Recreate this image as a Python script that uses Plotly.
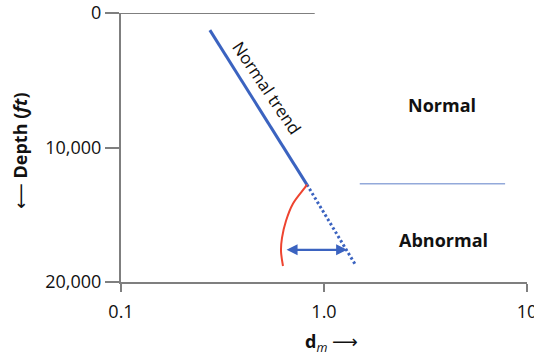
import numpy as np
import plotly.graph_objects as go

# d-exponent (dm) versus depth: normal compaction trend and abnormal pressure zone
trend_dm = [0.274, 0.824]
trend_depth = [1270, 12760]

trend_ext_dm = [0.824, 1.42]
trend_ext_depth = [12760, 18660]

abnormal_dm = [0.824, 0.805, 0.703, 0.650, 0.621, 0.614, 0.628]
abnormal_depth = [12760, 12985, 14180, 15450, 16720, 17690, 18810]

shift_depth = 17610
shift_dm = [0.643, 1.30]

boundary_depth = 12690
boundary_dm = [1.50, 7.8]

top_dm = [0.1, 0.9]
top_depth = [0, 0]

x_ticks = [0.1, 1, 10]
x_labels = ["0.1", "1.0", "10"]
y_ticks = [0, 10000, 20000]
y_labels = ["0", "10,000", "20,000"]

BLUE = "#3b63c0"
RED = "#ee4430"
GRAY = "#7f7f7f"
FONT = "Open Sans"
ARROW = '<span style="font-family:DejaVu Sans;font-weight:normal">{}</span>'

W, H = 534, 356
L, R, T, B = 121, 7, 13, 74
pw, ph = W - L - R, H - T - B


def px_to_paper(px, py):
    return (px - L) / pw, (H - B - py) / ph


def label(px, py, text, size=18, angle=0):
    x, y = px_to_paper(px, py)
    fig.add_annotation(x=x, y=y, xref="paper", yref="paper", text=text,
                       showarrow=False, textangle=angle,
                       xanchor="center", yanchor="middle",
                       font=dict(family=FONT, size=size, color="#111"))


fig = go.Figure()

fig.add_trace(go.Scatter(x=top_dm, y=top_depth, mode="lines",
                         line=dict(color=GRAY, width=2), hoverinfo="skip"))
fig.add_trace(go.Scatter(x=trend_dm, y=trend_depth, mode="lines",
                         line=dict(color=BLUE, width=3)))
fig.add_trace(go.Scatter(x=trend_ext_dm, y=trend_ext_depth, mode="lines",
                         line=dict(color=BLUE, width=3, dash="2.5px,2.5px")))
fig.add_trace(go.Scatter(x=abnormal_dm, y=abnormal_depth, mode="lines",
                         line=dict(color=RED, width=2, shape="spline")))
fig.add_trace(go.Scatter(x=boundary_dm, y=[boundary_depth] * 2, mode="lines",
                         line=dict(color="#93a9da", width=1.5)))

# double-headed arrow showing the shift from the normal trend
fig.add_annotation(x=np.log10(shift_dm[1]), y=shift_depth,
                   ax=np.log10(shift_dm[0]), ay=shift_depth,
                   xref="x", yref="y", axref="x", ayref="y",
                   text="", showarrow=True, arrowhead=2, arrowside="end+start",
                   arrowsize=1, arrowwidth=2.2, arrowcolor=BLUE,
                   standoff=0, startstandoff=0)

label(267, 87, "Normal trend", size=17, angle=56)
label(442, 105, "<b>Normal</b>")
label(443, 240, "<b>Abnormal</b>")

# axis titles
label(20, 151, ARROW.format("⟵") + " <b>Depth (<i>ft</i>)</b>", angle=-90)
label(331, 342, "<b>d</b><sub><i>m</i></sub> " + ARROW.format("⟶"))

fig.update_layout(
    width=W, height=H,
    margin=dict(l=L, r=R, t=T, b=B, autoexpand=False),
    paper_bgcolor="white", plot_bgcolor="white",
    showlegend=False,
    font=dict(family=FONT, size=18, color="#111"),
)
fig.update_xaxes(type="log", range=[-1, 1], tickvals=x_ticks, ticktext=x_labels,
                 showgrid=False, zeroline=False, showline=True, linecolor=GRAY,
                 linewidth=2, ticks="outside", ticklen=8, tickwidth=1.5,
                 tickcolor=GRAY, ticklabeloverflow="allow", ticklabelstandoff=4,
                 tickfont=dict(family=FONT, size=18, color="#111"))
fig.update_yaxes(range=[20000, 0], tickvals=y_ticks, ticktext=y_labels,
                 showgrid=False, zeroline=False, showline=True, linecolor=GRAY,
                 linewidth=2, ticks="outside", ticklen=14, tickwidth=1.5,
                 tickcolor=GRAY, ticklabeloverflow="allow",
                 tickfont=dict(family=FONT, size=18, color="#111"))

fig.write_html("out.html")
